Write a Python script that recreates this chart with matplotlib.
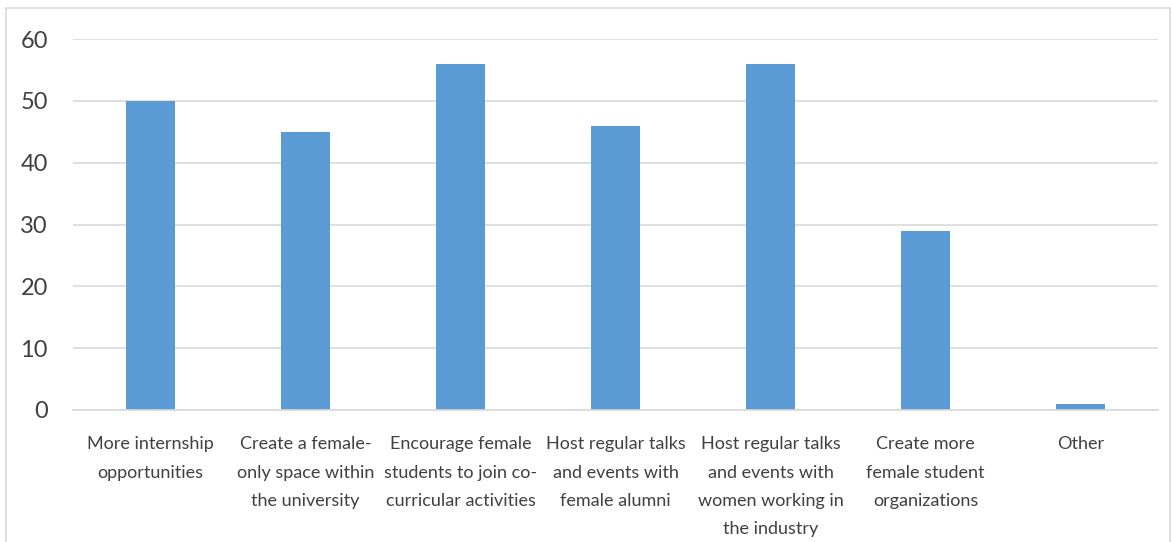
import matplotlib.pyplot as plt
from matplotlib import font_manager
from matplotlib.patches import Rectangle

categories = [
    "More internship\nopportunities",
    "Create a female-\nonly space within\nthe university",
    "Encourage female\nstudents to join co-\ncurricular activities",
    "Host regular talks\nand events with\nfemale alumni",
    "Host regular talks\nand events with\nwomen working in\nthe industry",
    "Create more\nfemale student\norganizations",
    "Other",
]
counts = [50, 45, 56, 46, 56, 29, 1]
y_ticks = [0, 10, 20, 30, 40, 50, 60]

names = {f.name for f in font_manager.fontManager.ttflist}
family = "Liberation Sans Narrow" if "Liberation Sans Narrow" in names else "Lato"
plt.rcParams["font.family"] = [family, "DejaVu Sans"]

fig = plt.figure(figsize=(11.72, 5.42), dpi=100)
ax = fig.add_axes([73 / 1172, 1 - 410 / 542, 1085 / 1172, 371 / 542])

# outer frame of the chart area
fig.patches.append(Rectangle((6 / 1172, -0.05), 1164 / 1172, 1 - 8 / 542 + 0.05,
                             transform=fig.transFigure, fill=False,
                             edgecolor="#d9d9d9", linewidth=1.2))

x = list(range(len(categories)))
ax.bar(x, counts, width=0.32, color="#5b9bd5", zorder=2)

ax.set_xlim(-0.5, len(categories) - 0.5)
ax.set_ylim(0, 60)
ax.set_yticks(y_ticks)
ax.set_xticks(x)
ax.set_xticklabels(categories, fontsize=13, color="#404040", linespacing=1.95)
ax.tick_params(axis="y", labelsize=17, colors="#404040", length=0, pad=18)
ax.tick_params(axis="x", length=0, pad=19)
ax.grid(axis="y", color="#d9d9d9", linewidth=1.2, zorder=0)
for side in ["top", "left", "right"]:
    ax.spines[side].set_visible(False)
ax.spines["bottom"].set_color("#d9d9d9")
ax.spines["bottom"].set_linewidth(1.2)

fig.savefig("out.png", dpi=100)
